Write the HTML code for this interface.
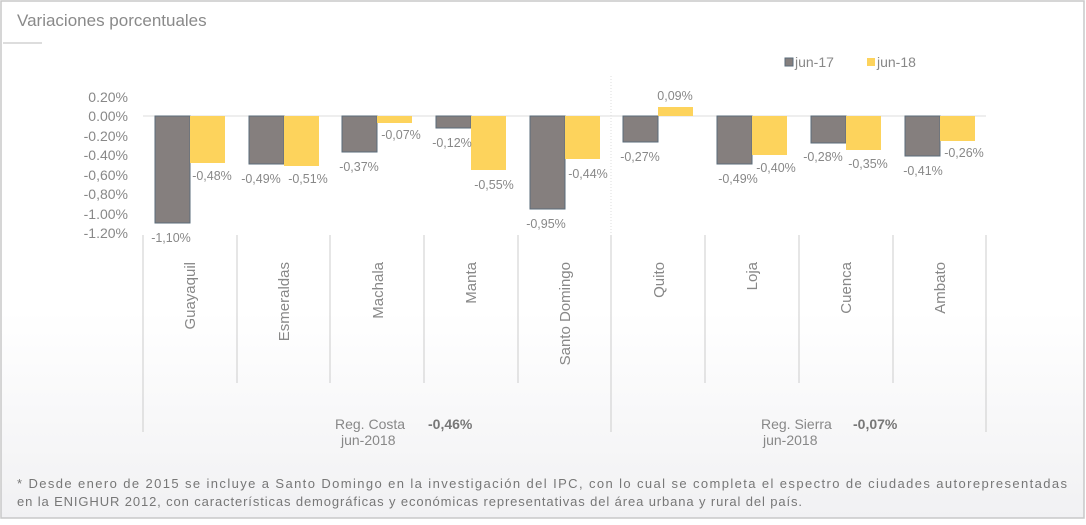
<!DOCTYPE html>
<html><head><meta charset="utf-8"><style>
body{margin:0;width:1086px;height:520px;overflow:hidden;background:#fff;font-family:"Liberation Sans",sans-serif;}
</style></head><body>
<svg width="1086" height="520" viewBox="0 0 1086 520" xmlns="http://www.w3.org/2000/svg" font-family="Liberation Sans, sans-serif">
<defs><linearGradient id="bg" x1="0" y1="0" x2="0" y2="1"><stop offset="0" stop-color="#fff"/><stop offset="0.6" stop-color="#fff"/><stop offset="1" stop-color="#f1f1f3"/></linearGradient></defs>
<rect x="1" y="1" width="1083" height="517" fill="url(#bg)" stroke="#c8c8c8" stroke-width="1.5"/>
<text x="17" y="26" font-size="17" fill="#8a8a8a">Variaciones porcentuales</text>
<line x1="3" y1="43" x2="42" y2="43" stroke="#bbb" stroke-width="1"/>
<rect x="785" y="58" width="8" height="8" fill="#857f7e" stroke="#5a6b7a"/>
<text x="795" y="67" font-size="14" fill="#888">jun-17</text>
<rect x="867" y="58" width="8" height="8" fill="#fdd35c"/>
<text x="877" y="67" font-size="14" fill="#888">jun-18</text>
<g font-size="14" fill="#888" text-anchor="end">
<text x="128" y="102">0.20%</text><text x="128" y="121">0.00%</text><text x="128" y="141">-0.20%</text><text x="128" y="160">-0.40%</text><text x="128" y="180">-0,60%</text><text x="128" y="199">-0,80%</text><text x="128" y="219">-1.00%</text><text x="128" y="238">-1.20%</text>
</g>
<line x1="143" y1="116" x2="986" y2="116" stroke="#ddd"/>
<line x1="611" y1="76" x2="611" y2="235" stroke="#ddd" stroke-dasharray="1,2"/>
<g stroke="#ccc">
<line x1="143" y1="235" x2="143" y2="432"/><line x1="237" y1="235" x2="237" y2="383"/><line x1="330" y1="235" x2="330" y2="383"/><line x1="424" y1="235" x2="424" y2="383"/><line x1="518" y1="235" x2="518" y2="383"/><line x1="611" y1="235" x2="611" y2="432"/><line x1="705" y1="235" x2="705" y2="383"/><line x1="799" y1="235" x2="799" y2="383"/><line x1="893" y1="235" x2="893" y2="383"/><line x1="986" y1="235" x2="986" y2="432"/>
</g>
<g stroke="#5a6b7a" stroke-width="1" fill="#857f7e">
<rect x="155" y="116" width="35" height="107"/>
<rect x="249" y="116" width="35" height="48"/>
<rect x="342" y="116" width="35" height="36"/>
<rect x="436" y="116" width="35" height="12"/>
<rect x="530" y="116" width="35" height="93"/>
<rect x="623" y="116" width="35" height="26"/>
<rect x="717" y="116" width="35" height="48"/>
<rect x="811" y="116" width="35" height="27"/>
<rect x="905" y="116" width="35" height="40"/>
</g>
<g fill="#fdd35c">
<rect x="190" y="116" width="35" height="47"/>
<rect x="284" y="116" width="35" height="50"/>
<rect x="377" y="116" width="35" height="7"/>
<rect x="471" y="116" width="35" height="54"/>
<rect x="565" y="116" width="35" height="43"/>
<rect x="658" y="107" width="35" height="9"/>
<rect x="752" y="116" width="35" height="39"/>
<rect x="846" y="116" width="35" height="34"/>
<rect x="940" y="116" width="35" height="25"/>
</g>
<g font-size="12.5" fill="#888" text-anchor="middle">
<text x="171" y="242">-1,10%</text><text x="212" y="180">-0,48%</text>
<text x="261" y="183">-0,49%</text><text x="308" y="183">-0,51%</text>
<text x="359" y="171">-0,37%</text><text x="401" y="139">-0,07%</text>
<text x="452" y="147">-0,12%</text><text x="494" y="189">-0,55%</text>
<text x="546" y="228">-0,95%</text><text x="588" y="178">-0,44%</text>
<text x="640" y="161">-0,27%</text><text x="675" y="100">0,09%</text>
<text x="738" y="183">-0,49%</text><text x="776" y="172">-0,40%</text>
<text x="823" y="161">-0,28%</text><text x="868" y="168">-0,35%</text>
<text x="923" y="175">-0,41%</text><text x="964" y="157">-0,26%</text>
</g>
<g font-size="15" fill="#888" text-anchor="end">
<text transform="translate(195,262) rotate(-90)">Guayaquil</text>
<text transform="translate(289,262) rotate(-90)">Esmeraldas</text>
<text transform="translate(383,262) rotate(-90)">Machala</text>
<text transform="translate(476,262) rotate(-90)">Manta</text>
<text transform="translate(570,262) rotate(-90)">Santo Domingo</text>
<text transform="translate(664,262) rotate(-90)">Quito</text>
<text transform="translate(757,262) rotate(-90)">Loja</text>
<text transform="translate(851,262) rotate(-90)">Cuenca</text>
<text transform="translate(945,262) rotate(-90)">Ambato</text>
</g>
<g font-size="14" fill="#888">
<text x="335" y="429">Reg. Costa</text><text x="428" y="429" font-weight="bold" fill="#777">-0,46%</text>
<text x="341" y="445">jun-2018</text>
<text x="761" y="429">Reg. Sierra</text><text x="853" y="429" font-weight="bold" fill="#777">-0,07%</text>
<text x="763" y="445">jun-2018</text>
</g>
<g font-size="13" fill="#777">
<text x="17" y="488" textLength="1050" lengthAdjust="spacing">*  Desde enero de 2015 se incluye a Santo Domingo en la investigación del IPC, con lo cual se completa el espectro de ciudades autorepresentadas</text>
<text x="17" y="506" textLength="785" lengthAdjust="spacing">en la ENIGHUR 2012, con características demográficas y económicas representativas del área urbana y rural del país.</text>
</g>
</svg>
</body></html>
